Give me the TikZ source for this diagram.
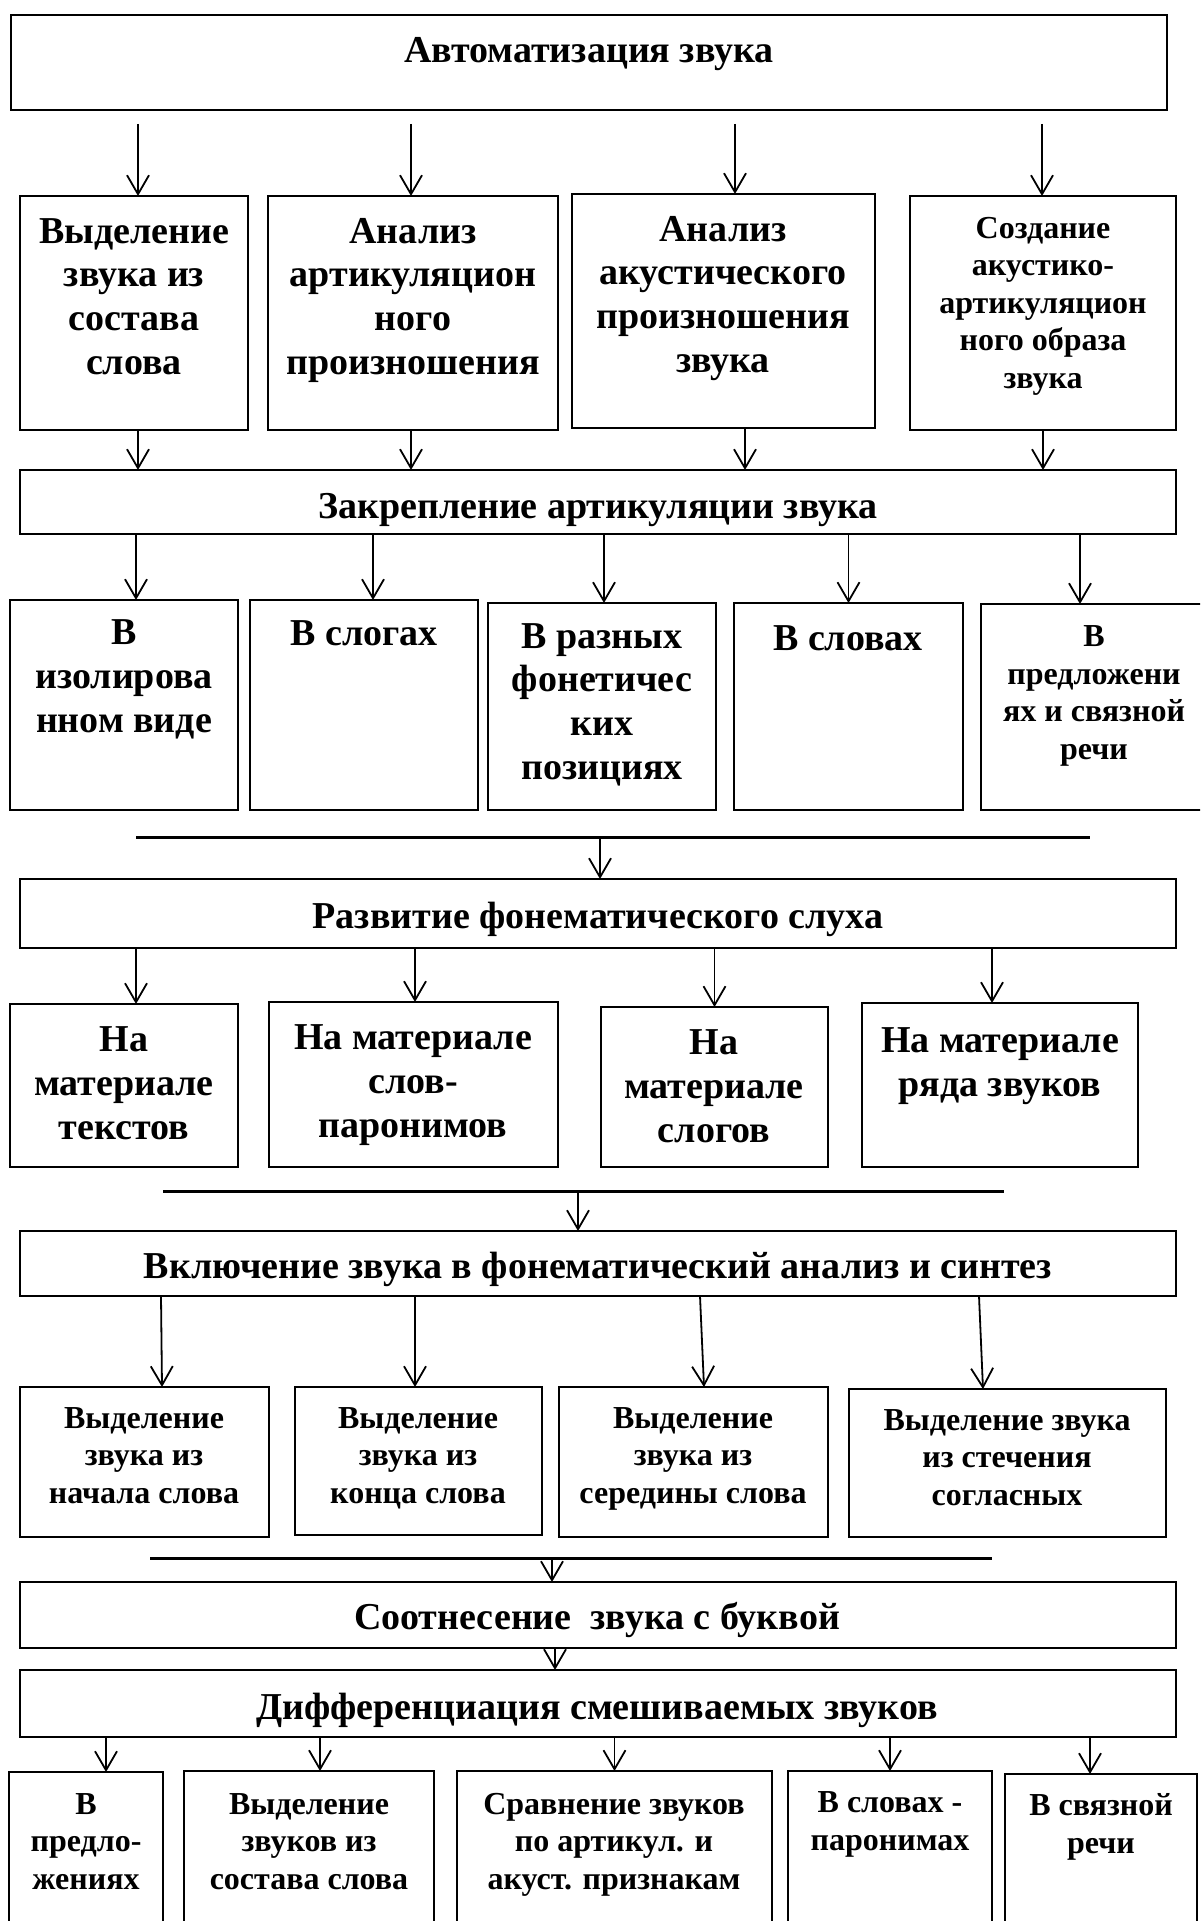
\documentclass[tikz,border=0pt]{standalone}
\usepackage{fontspec}
\setmainfont{Liberation Serif}
\usetikzlibrary{arrows.meta,calc}
\tikzset{
 boxst/.style={draw, line width=1.2pt, inner sep=0pt, outer sep=0pt, rectangle},
 arr/.style={line width=0.9pt, -{Straight Barb[length=9.5pt,width=11pt,line width=0.9pt]}},
 hline/.style={line width=1.5pt},
 big/.style={anchor=base, align=center, inner sep=0pt, font=\fontsize{19}{21.8}\selectfont\bfseries},
 small/.style={anchor=base, align=center, inner sep=0pt, font=\fontsize{16}{18.7}\selectfont\bfseries},
}
\newcommand\BX[5]{\node[boxst, minimum width={(#4-#2)*0.5pt}, minimum height={(#5-#3)*0.5pt}] (#1) at ({(#2+#4)/2},{(#3+#5)/2}) {};}
\begin{document}
\begin{tikzpicture}[x=0.5pt, y=-0.5pt]
\useasboundingbox (0,0) rectangle (1200,1921);
\fill[white] (0,0) rectangle (1200,1921);
\clip (0,0) rectangle (1200,1921);
% top
\BX{T}{11}{15}{1167}{110}
\node[big] (tT) at (589,63) {Автоматизация звука};
% row 2
\BX{A1}{20}{196}{248}{430}
\BX{A2}{268}{196}{558}{430}
\BX{A3}{572}{194}{875}{428}
\BX{A4}{910}{196}{1176}{430}
\node[big] (tA1) at (134,374) {Выделение\\звука из\\состава\\слова};
\node[big] (tA2) at (413,374) {Анализ\\артикуляцион\\ного\\произношения};
\node[big] (tA3) at (723,372) {Анализ\\акустического\\произношения\\звука};
\node[small] (tA4) at (1043,388) {Создание\\акустико-\\артикуляцион\\ного образа\\звука};
\draw[arr] ([xshift=2pt]A1.north |- T.south) ++(0,14) -- ([xshift=2pt]A1.north);
\draw[arr] ([xshift=-1pt]A2.north |- T.south) ++(0,14) -- ([xshift=-1pt]A2.north);
\draw[arr] ([xshift=5.75pt]A3.north |- T.south) ++(0,14) -- ([xshift=5.75pt]A3.north);
\draw[arr] ([xshift=-0.5pt]A4.north |- T.south) ++(0,14) -- ([xshift=-0.5pt]A4.north);
% Z
\BX{Z}{20}{470}{1176}{534}
\node[big] (tZ) at (598,518) {Закрепление артикуляции звука};
\draw[arr] ([xshift=2pt]A1.south) -- ([xshift=2pt]A1.south |- Z.north);
\draw[arr] ([xshift=-1pt]A2.south) -- ([xshift=-1pt]A2.south |- Z.north);
\draw[arr] ([xshift=10.75pt]A3.south) -- ([xshift=10.75pt]A3.south |- Z.north);
\draw[arr] ([xshift=0pt]A4.south) -- ([xshift=0pt]A4.south |- Z.north);
% row 3
\BX{B1}{10}{600}{238}{810}
\BX{B2}{250}{600}{478}{810}
\BX{B3}{488}{603}{716}{810}
\BX{B4}{734}{603}{963}{810}
\BX{B5}{981}{604}{1207}{810}
\node[big] (tB1) at (124,732) {В\\изолирова\\нном виде};
\node[big] (tB2) at (364,645) {В слогах};
\node[big] (tB3) at (602,779) {В разных\\фонетичес\\ких\\позициях};
\node[big] (tB4) at (848,650) {В словах};
\node[small] (tB5) at (1094,759) {В\\предложени\\ях и связной\\речи};
\draw[arr] ([xshift=6pt]B1.north |- Z.south) -- ([xshift=6pt]B1.north);
\draw[arr] ([xshift=4.5pt]B2.north |- Z.south) -- ([xshift=4.5pt]B2.north);
\draw[arr] ([xshift=1pt]B3.north |- Z.south) -- ([xshift=1pt]B3.north);
\draw[arr] ([xshift=0pt]B4.north |- Z.south) -- ([xshift=0pt]B4.north);
\draw[arr] ([xshift=-7pt]B5.north |- Z.south) -- ([xshift=-7pt]B5.north);
% line 1 and R
\coordinate (l1a) at (136,837);
\coordinate (l1b) at (1090,837);
\coordinate (l1m) at (600,837);
\draw[hline] (l1a) -- (l1b);
\BX{R}{20}{879}{1176}{948}
\node[big] (tR) at (598,928) {Развитие фонематического слуха};
\draw[arr] (l1m) -- (l1m |- R.north);
% row 4
\BX{C1}{10}{1004}{238}{1167}
\BX{C2}{269}{1002}{558}{1167}
\BX{C3}{601}{1007}{828}{1167}
\BX{C4}{862}{1003}{1138}{1167}
\node[big] (tC1) at (124,1139) {На\\материале\\текстов};
\node[big] (tC2) at (413,1137) {На материале\\слов-\\паронимов};
\node[big] (tC3) at (714,1142) {На\\материале\\слогов};
\node[big] (tC4) at (1000,1096) {На материале\\ряда звуков};
\draw[arr] ([xshift=6pt]C1.north |- R.south) -- ([xshift=6pt]C1.north);
\draw[arr] ([xshift=0.75pt]C2.north |- R.south) -- ([xshift=0.75pt]C2.north);
\draw[arr] ([xshift=0pt]C3.north |- R.south) -- ([xshift=0pt]C3.north);
\draw[arr] ([xshift=-4pt]C4.north |- R.south) -- ([xshift=-4pt]C4.north);
% line 2 and V
\coordinate (l2a) at (163,1191);
\coordinate (l2b) at (1004,1191);
\coordinate (l2m) at (578,1191);
\draw[hline] (l2a) -- (l2b);
\BX{V}{20}{1231}{1176}{1296}
\node[big] (tV) at (598,1278) {Включение звука в фонематический анализ и синтез};
\draw[arr] (l2m) -- (l2m |- V.north);
% row 5
\BX{D1}{20}{1387}{269}{1537}
\BX{D2}{295}{1387}{542}{1535}
\BX{D3}{559}{1387}{828}{1537}
\BX{D4}{849}{1389}{1166}{1537}
\node[small] (tD1) at (144,1503) {Выделение\\звука из\\начала слова};
\node[small] (tD2) at (418,1503) {Выделение\\звука из\\конца слова};
\node[small] (tD3) at (693,1503) {Выделение\\звука из\\середины слова};
\node[small] (tD4) at (1007,1505) {Выделение звука\\из стечения\\согласных};
\draw[arr] ([xshift=8.25pt]D1.north |- V.south) -- ([xshift=8.75pt]D1.north);
\draw[arr] ([xshift=-1.75pt]D2.north |- V.south) -- ([xshift=-1.75pt]D2.north);
\draw[arr] ([xshift=3.25pt]D3.north |- V.south) -- ([xshift=5.25pt]D3.north);
\draw[arr] ([xshift=-14.25pt]D4.north |- V.south) -- ([xshift=-12.25pt]D4.north);
% line 3, S, Dif
\coordinate (l3a) at (150,1558);
\coordinate (l3b) at (992,1558);
\coordinate (l3m) at (552,1558);
\draw[hline] (l3a) -- (l3b);
\BX{S}{20}{1582}{1176}{1648}
\node[big] (tS) at (597,1629) {Соотнесение\ \ звука с буквой};
\draw[arr] (l3m) -- (l3m |- S.north);
\BX{Dif}{20}{1670}{1176}{1737}
\node[big] (tDif) at (597,1719) {Дифференциация смешиваемых звуков};
\draw[arr] ([xshift=-21.5pt]S.south) -- ([xshift=-21.5pt]S.south |- Dif.north);
% bottom row
\BX{E1}{9}{1772}{163}{1960}
\BX{E2}{184}{1771}{434}{1960}
\BX{E3}{457}{1771}{772}{1960}
\BX{E4}{788}{1771}{992}{1960}
\BX{E5}{1005}{1774}{1197}{1960}
\node[small] (tE1) at (86,1889) {В\\предло-\\жениях};
\node[small] (tE2) at (309,1889) {Выделение\\звуков из\\состава слова};
\node[small] (tE3) at (614,1889) {Сравнение звуков\\по артикул. и\\акуст. признакам};
\node[small] (tE4) at (890,1850) {В словах -\\паронимах};
\node[small] (tE5) at (1101,1853) {В связной\\речи};
\draw[arr] ([xshift=10pt]E1.north |- Dif.south) -- ([xshift=10pt]E1.north);
\draw[arr] ([xshift=5.5pt]E2.north |- Dif.south) -- ([xshift=5.5pt]E2.north);
\draw[arr] ([xshift=0pt]E3.north |- Dif.south) -- ([xshift=0pt]E3.north);
\draw[arr] ([xshift=0pt]E4.north |- Dif.south) -- ([xshift=0pt]E4.north);
\draw[arr] ([xshift=-5.5pt]E5.north |- Dif.south) -- ([xshift=-5.5pt]E5.north);
\end{tikzpicture}
\end{document}
